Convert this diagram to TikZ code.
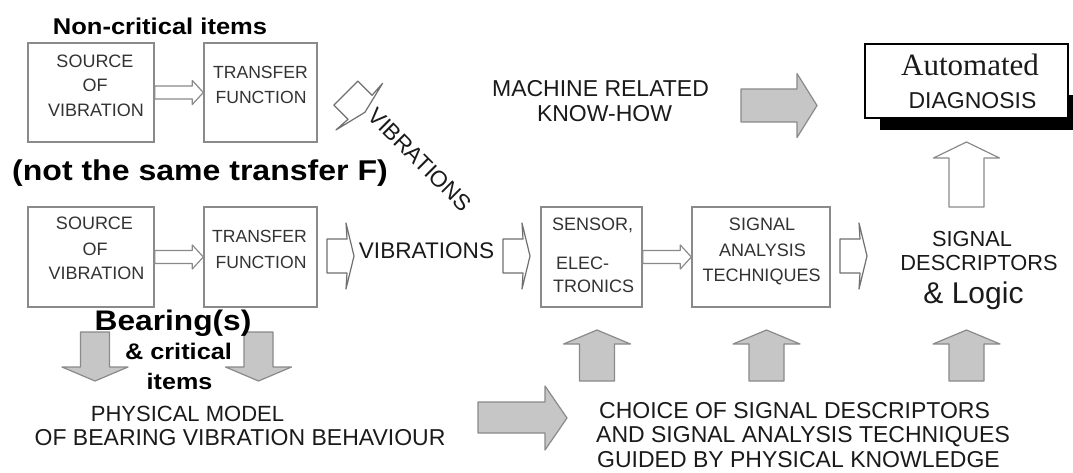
\documentclass[tikz,border=0pt]{standalone}
\usepackage{fontspec}
\usepackage{graphicx}
\setmainfont{Liberation Sans}
\newfontfamily\serifA{Liberation Serif}
\usetikzlibrary{calc}
\definecolor{boxgray}{HTML}{8A8A8A}
\definecolor{wedgegray}{HTML}{707070}
\definecolor{fillgray}{HTML}{C6C6C6}
\definecolor{txtgray}{HTML}{333333}
\definecolor{inkdark}{HTML}{1A1A1A}
\newcommand{\fsz}[1]{\fontsize{#1}{#1}\selectfont}
\tikzset{
  boxnode/.style={draw=boxgray, line width=1.4pt, inner sep=0pt, fill=white},
  lbl/.style={inner sep=0pt, anchor=base, text=txtgray},
  big/.style={inner sep=0pt, anchor=base, text=inkdark},
  blk/.style={inner sep=0pt, anchor=base, text=black, font=\bfseries},
  grayarrow/.style={draw=boxgray, fill=fillgray, line width=1.2pt, line join=round},
  hollowarrow/.style={draw=boxgray, fill=white, line width=1.2pt, line join=round},
  wedgestyle/.style={draw=wedgegray, fill=white, line width=1.2pt, line join=round},
  thinarrow/.style={hollowarrow, to path={let \p1=(\tikztostart), \p2=(\tikztotarget) in
    (\x1,\y1+6.5pt) -- (\x2-11pt,\y1+6.5pt) -- (\x2-11pt,\y1+12pt) -- (\x2,\y1)
    -- (\x2-11pt,\y1-12pt) -- (\x2-11pt,\y1-6.5pt) -- (\x1,\y1-6.5pt) -- cycle}},
  wedge/.pic={\draw[wedgestyle] (-20,-17) -- (0,-17) -- (-1,-33) -- (7,0) -- (-1,33) -- (0,17) -- (-20,17) -- cycle;},
}
\begin{document}
\begin{tikzpicture}[x=1pt,y=-1pt]
\useasboundingbox (0,0) rectangle (1073,472);
\fill[white] (0,0) rectangle (1073,472);

% boxes
\node[boxnode, minimum width=126, minimum height=99] (s1) at (91,92.5) {};
\node[boxnode, minimum width=113, minimum height=99] (t1) at (260.5,92.5) {};
\node[boxnode, minimum width=126, minimum height=100] (s2) at (91,257) {};
\node[boxnode, minimum width=113, minimum height=100] (t2) at (260.5,257) {};
\node[boxnode, minimum width=101, minimum height=100] (sens) at (591.5,257) {};
\node[boxnode, minimum width=138, minimum height=100] (sig) at (761,257) {};

% automated diagnosis box with shadow
\fill[black] (880,95) rectangle (1073,130);
\node[draw=black, line width=1.6pt, fill=white, inner sep=0pt, minimum width=203, minimum height=74] (auto) at (966.5,81) {};

% thin hollow arrows between boxes
\draw[thinarrow] (s1.east) to (t1.west);
\draw[thinarrow] (s2.east) to (t2.west);
\draw[thinarrow] (sens.east) to (sig.west);

% wedge arrows
\pic at (347,256) {wedge};
\pic at (523,256) {wedge};
\pic at (860,256) {wedge};
\pic[rotate=-45] at (360,107.3) {wedge};

% white up arrow to diagnosis
\draw[hollowarrow] (949,207) -- (984,207) -- (984,158) -- (999.5,158) -- (966.5,142) -- (933.5,158) -- (949,158) -- cycle;

% gray arrows
\draw[grayarrow] (741,89) -- (797,89) -- (797,73.5) -- (817,105.5) -- (797,137.5) -- (797,122) -- (741,122) -- cycle;
\draw[grayarrow] (478,402) -- (545,402) -- (545,386) -- (567,418) -- (545,450) -- (545,433) -- (478,433) -- cycle;
\draw[grayarrow] (80.5,332) -- (109.5,332) -- (109.5,367) -- (128,367) -- (95,381) -- (62,367) -- (80.5,367) -- cycle;
\draw[grayarrow] (244,332) -- (273,332) -- (273,367) -- (291.5,367) -- (258.5,381) -- (225.5,367) -- (244,367) -- cycle;
\foreach \cx in {597,766.5,966.5}{
  \draw[grayarrow] (\cx-17.5,381) -- (\cx+17.5,381) -- (\cx+17.5,344) -- (\cx+33.5,344) -- (\cx,330) -- (\cx-33.5,344) -- (\cx-17.5,344) -- cycle;
}

% bold stretched labels
\node[blk] (nc) at (160,34) {\scalebox{1.12}[1]{\fsz{22.8}Non-critical items}};
\node[blk] (nts) at (200,180) {\scalebox{1.12}[1]{\fsz{28.6}(not the same transfer F)}};
\node[blk] (bear) at (173,330) {\scalebox{1.12}[1]{\fsz{28.3}Bearing(s)}};
\node[blk] (crit) at (178.5,359) {\scalebox{1.12}[1]{\fsz{22.6}\& critical}};
\node[blk] (itm) at (179.5,389) {\scalebox{1.12}[1]{\fsz{22.4}items}};

% box texts
\node[lbl, font=\fsz{18}] (s1a) at (95,67.4) {SOURCE};
\node[lbl, font=\fsz{18}] (s1b) at (95,91.4) {OF};
\node[lbl, font=\fsz{18}] (s1c) at (96,116.4) {VIBRATION};
\node[lbl, font=\fsz{17.6}] (t1a) at (260.5,78.4) {TRANSFER};
\node[lbl, font=\fsz{17.6}] (t1b) at (261,103.4) {FUNCTION};
\node[lbl, font=\fsz{18}] (s2a) at (94.5,229) {SOURCE};
\node[lbl, font=\fsz{18}] (s2b) at (95,255.4) {OF};
\node[lbl, font=\fsz{18}] (s2c) at (96.5,279.7) {VIBRATION};
\node[lbl, font=\fsz{17.6}] (t2a) at (259.5,242.3) {TRANSFER};
\node[lbl, font=\fsz{17.6}] (t2b) at (261,268) {FUNCTION};
\node[lbl, font=\fsz{18}, anchor=base west] (sn1) at (552,230.5) {SENSOR,};
\node[lbl, font=\fsz{18}, anchor=base west] (sn2) at (556,269) {ELEC-};
\node[lbl, font=\fsz{18}, anchor=base west] (sn3) at (553,292.7) {TRONICS};
\node[lbl, font=\fsz{18}] (sg1) at (762,230.5) {SIGNAL};
\node[lbl, font=\fsz{18}] (sg2) at (762.5,256) {ANALYSIS};
\node[lbl, font=\fsz{18}] (sg3) at (761.5,281.7) {TECHNIQUES};

% other texts
\node[big, font=\fsz{22.6}] (vib) at (426.5,258) {VIBRATIONS};
\node[big, font=\fsz{22.6}, anchor=base west, rotate=-45] (vibd) at (366.5,117.4) {VIBRATIONS};
\node[big, font=\fsz{23}] (m1) at (600.5,96.5) {MACHINE RELATED};
\node[big, font=\fsz{23}] (m2) at (604.5,121.5) {KNOW-HOW};
\node[big, font=\fsz{21.8}] (d1) at (972,246.7) {SIGNAL};
\node[big, font=\fsz{21.8}] (d2) at (979,270.7) {DESCRIPTORS};
\node[big, font=\fsz{30}] (d3) at (973.5,303) {\& Logic};
\node[big, font=\serifA\fsz{31}] (au1) at (970,75) {Automated};
\node[big, font=\fsz{23}] (au2) at (972.5,108.3) {DIAGNOSIS};
\node[big, font=\fsz{22}] (p1) at (187.5,421.7) {PHYSICAL MODEL};
\node[big, font=\fsz{23}] (p2) at (240,445) {OF BEARING VIBRATION BEHAVIOUR};
\node[big, font=\fsz{23}, anchor=base west] (c1) at (599,418.3) {CHOICE OF SIGNAL DESCRIPTORS};
\node[big, font=\fsz{23}, anchor=base west] (c2) at (596,442.5) {AND SIGNAL ANALYSIS TECHNIQUES};
\node[big, font=\fsz{23}, anchor=base west] (c3) at (597,467.5) {GUIDED BY PHYSICAL KNOWLEDGE};
\end{tikzpicture}
\end{document}
